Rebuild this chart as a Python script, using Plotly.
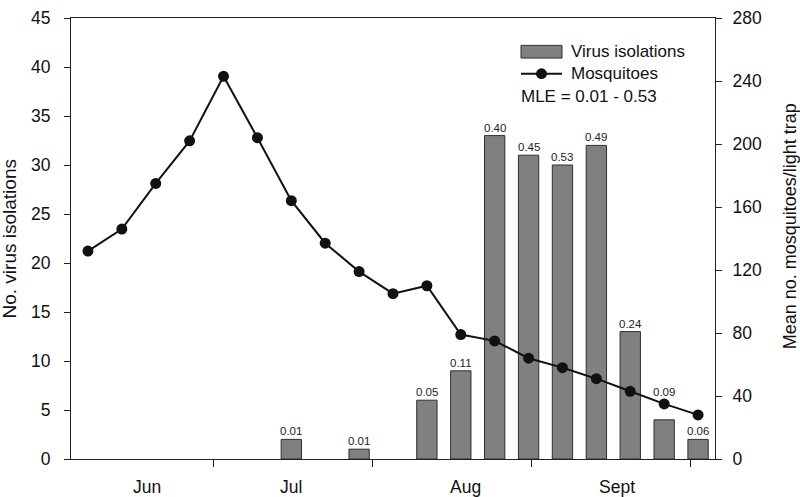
import plotly.graph_objects as go

# ---------------- data ----------------
weeks = list(range(19))
virus_isolations = [None, None, None, None, None, None, 2, None, 1, None, 6, 9, 33, 31, 30, 32, 13, 4, 2]
mle_labels = ["", "", "", "", "", "", "0.01", "", "0.01", "", "0.05", "0.11", "0.40", "0.45", "0.53", "0.49", "0.24", "0.09", "0.06"]
mosquitoes = [132, 146, 175, 202, 243, 204, 164, 137, 119, 105, 110, 79, 75, 64, 58, 51, 43, 35, 28]
month_labels = ["Jun", "Jul", "Aug", "Sept"]
month_label_pos = [1.73, 6.0, 11.14, 15.62]
month_boundaries = [3.71, 8.40, 13.08, 17.79]
left_ticks = list(range(0, 46, 5))
right_ticks = list(range(0, 281, 40))

# ---------------- style ----------------
FONT = "Liberation Sans, Arial, sans-serif"
W, H = 800, 497
L, R, T, B = 71, 715, 8, 459
label_lift = {17: 20}
TICK_SIZE = 17.5

def px(xp):
    return (xp - L) / (R - L)

def py(yp):
    return (B - yp) / (B - T)

fig = go.Figure()
fig.add_trace(go.Bar(
    x=weeks, y=virus_isolations, width=0.6,
    marker=dict(color="#808080", line=dict(color="#2f2f2f", width=1)),
    showlegend=False, yaxis="y",
))
fig.add_trace(go.Scatter(
    x=weeks, y=mosquitoes, mode="lines+markers",
    line=dict(color="#111111", width=2),
    marker=dict(color="#111111", size=11),
    showlegend=False, yaxis="y2",
))

annotations = []
for i, (v, lab) in enumerate(zip(virus_isolations, mle_labels)):
    if lab and v is not None:
        annotations.append(dict(
            x=weeks[i], y=v, xref="x", yref="y", text=lab, showarrow=False,
            yanchor="bottom", xanchor="center", yshift=label_lift.get(i, 0),
            font=dict(family=FONT, size=11.5, color="#222222"),
        ))
for lab, pos in zip(month_labels, month_label_pos):
    annotations.append(dict(
        x=pos, y=0, xref="x", yref="paper", text=lab, showarrow=False,
        yanchor="top", xanchor="center", yshift=-16,
        font=dict(family=FONT, size=TICK_SIZE, color="#111111"),
    ))

# axis titles
annotations += [
    dict(x=px(9), y=py(234.5), xref="paper", yref="paper", text="No. virus isolations",
         textangle=-90, showarrow=False, xanchor="center", yanchor="middle",
         font=dict(family=FONT, size=19, color="#111111")),
    dict(x=px(790), y=py(221), xref="paper", yref="paper", text="Mean no. mosquitoes/light trap",
         textangle=-90, showarrow=False, xanchor="center", yanchor="middle",
         font=dict(family=FONT, size=18, color="#111111")),
]

# custom legend
annotations += [
    dict(x=px(569), y=py(42.5), xref="paper", yref="paper", text="Virus isolations",
         showarrow=False, xanchor="left", yanchor="middle",
         font=dict(family=FONT, size=17, color="#111111")),
    dict(x=px(569), y=py(65), xref="paper", yref="paper", text="Mosquitoes",
         showarrow=False, xanchor="left", yanchor="middle",
         font=dict(family=FONT, size=17, color="#111111")),
    dict(x=px(519), y=py(88), xref="paper", yref="paper", text="MLE = 0.01 - 0.53",
         showarrow=False, xanchor="left", yanchor="middle",
         font=dict(family=FONT, size=17, color="#111111")),
]
shapes = [
    dict(type="rect", xref="paper", yref="paper", x0=px(521), x1=px(562), y0=py(49), y1=py(36),
         fillcolor="#808080", line=dict(color="#2f2f2f", width=1)),
    dict(type="line", xref="paper", yref="paper", x0=px(521), x1=px(562), y0=py(65), y1=py(65),
         line=dict(color="#111111", width=2)),
    dict(type="circle", xref="paper", yref="paper", x0=px(536), x1=px(547), y0=py(70.5), y1=py(59.5),
         fillcolor="#111111", line=dict(color="#111111", width=0)),
]

fig.update_layout(
    width=W, height=H,
    margin=dict(l=L, r=W - R, t=T, b=H - B),
    paper_bgcolor="white", plot_bgcolor="white",
    font=dict(family=FONT, size=16, color="#111111"),
    bargap=0.4,
    xaxis=dict(
        range=[-0.5, 18.5], tickvals=month_boundaries, ticktext=[""] * len(month_boundaries),
        ticks="outside", ticklen=7, tickcolor="#222222", showgrid=False, zeroline=False,
        showline=True, linecolor="#222222", linewidth=1, mirror=True,
    ),
    yaxis=dict(
        range=[0, 45], tickvals=left_ticks, ticks="outside", ticklen=6, tickcolor="#222222",
        showgrid=False, zeroline=False, showline=True, linecolor="#222222", linewidth=1,
        ticklabelstandoff=10, ticklabeloverflow="allow",
        tickfont=dict(family=FONT, size=TICK_SIZE, color="#111111"),
    ),
    yaxis2=dict(
        range=[0, 280], tickvals=right_ticks, ticks="outside", ticklen=6, tickcolor="#222222",
        overlaying="y", side="right", showgrid=False, zeroline=False, showline=True,
        linecolor="#222222", linewidth=1, ticklabelstandoff=7, ticklabeloverflow="allow",
        tickfont=dict(family=FONT, size=TICK_SIZE, color="#111111"),
    ),
    annotations=annotations,
    shapes=shapes,
)

fig.write_html("out.html", config={"displayModeBar": False},
               post_script="document.body.style.margin='0';document.body.style.padding='0';")
